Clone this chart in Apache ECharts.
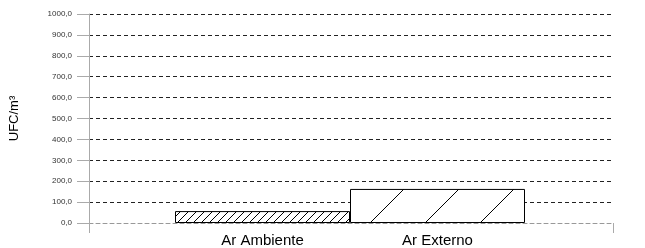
<!DOCTYPE html>
<html>
<head>
<meta charset="utf-8">
<script src="https://cdn.jsdelivr.net/npm/echarts@6/dist/echarts.min.js"></script>
<style>
  html, body { margin: 0; padding: 0; background: #fff; }
  #chart { width: 645px; height: 248px; }
</style>
</head>
<body>
<div id="chart"></div>
<script>
const categories = ['Ar Ambiente', 'Ar Externo'];
const values = [57, 163];
const yTicks = { min: 0, max: 1000, step: 100 };

// diagonal hatch tile: lines x + y = offset + k * spacing
function hatch(spacing, offset) {
  const c = document.createElement('canvas');
  c.width = spacing;
  c.height = spacing;
  const ctx = c.getContext('2d');
  ctx.fillStyle = '#fff';
  ctx.fillRect(0, 0, spacing, spacing);
  ctx.strokeStyle = '#000';
  ctx.lineWidth = 1;
  ctx.beginPath();
  for (let k = -1; k <= 2; k++) {
    const s = offset + k * spacing;
    ctx.moveTo(-1, s + 1);
    ctx.lineTo(s + 1, -1);
  }
  ctx.stroke();
  return c;
}

const patterns = [hatch(8, 0), hatch(55, 43)];

const chart = echarts.init(document.getElementById('chart'), null, { renderer: 'canvas' });

chart.setOption({
  animation: false,
  textStyle: { fontFamily: 'Liberation Sans, Arial, sans-serif' },
  grid: [
    { left: 89, right: 32, top: 14, bottom: 25 },
    { left: 175, right: 120, top: 14, bottom: 25 }
  ],
  xAxis: [
    {
      gridIndex: 0,
      type: 'category',
      data: [''],
      boundaryGap: true,
      axisLine: { show: true, lineStyle: { color: '#999', type: [4, 3], width: 1 } },
      axisTick: { show: true, length: 10, lineStyle: { color: '#aaa' } },
      axisLabel: { show: false }
    },
    {
      gridIndex: 1,
      type: 'category',
      data: categories,
      axisLine: { show: false },
      axisTick: { show: false },
      axisLabel: { fontSize: 15, color: '#000', margin: 10 }
    }
  ],
  yAxis: [
    {
      gridIndex: 0,
      type: 'value',
      min: yTicks.min,
      max: yTicks.max,
      interval: yTicks.step,
      name: 'UFC/m³',
      nameLocation: 'middle',
      nameGap: 68,
      nameTextStyle: { fontSize: 13, color: '#000' },
      axisLine: { show: true, lineStyle: { color: '#aaa' } },
      axisTick: { show: true, length: 12, lineStyle: { color: '#aaa' } },
      axisLabel: {
        fontSize: 8,
        color: '#333',
        margin: 17,
        formatter: v => v.toFixed(1).replace('.', ',')
      },
      splitLine: { show: true, lineStyle: { color: '#222', type: [4, 3], width: 1 } }
    },
    {
      gridIndex: 1,
      type: 'value',
      min: yTicks.min,
      max: yTicks.max,
      show: false,
      splitLine: { show: false }
    }
  ],
  series: [
    {
      type: 'bar',
      xAxisIndex: 1,
      yAxisIndex: 1,
      barWidth: '100%',
      data: values.map((v, i) => ({
        value: v,
        itemStyle: {
          color: { image: patterns[i], repeat: 'repeat' },
          borderColor: '#000',
          borderWidth: 1
        }
      }))
    }
  ]
});
</script>
</body>
</html>
